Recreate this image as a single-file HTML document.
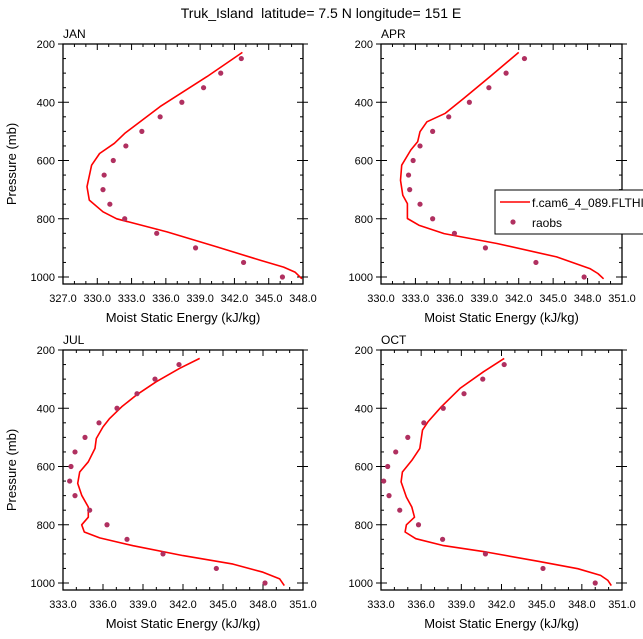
<!DOCTYPE html>
<html><head><meta charset="utf-8">
<style>
body{margin:0;background:#fff;}
svg{display:block;font-family:"Liberation Sans",Arial,sans-serif;}
</style></head>
<body>
<svg id="chart" width="643" height="639" viewBox="0 0 643 639">
<text x="321" y="18" text-anchor="middle" font-size="14">Truk_Island&#160;&#160;latitude=&#160;7.5&#160;N&#160;longitude=&#160;151&#160;E</text>
<g id="panels"></g>
<g>
<rect x="495" y="190" width="160" height="44" fill="#fff" stroke="#000" stroke-width="1"/>
<line x1="500" y1="202" x2="530" y2="202" stroke="#ff0000" stroke-width="1.6"/>
<text x="532" y="207" font-size="12">f.cam6_4_089.FLTHIST</text>
<circle cx="513" cy="222" r="2.6" fill="#b03060"/>
<text x="532" y="227" font-size="12">raobs</text>
</g>
</svg>
<script>
const months = ["JAN","APR","JUL","OCT"];
const xMins = [327,330,333,333];
const xMaxs = [348,351,351,351];
const obsPressure = [250,300,350,400,450,500,550,600,650,700,750,800,850,900,950,1000];
const obsJAN = [342.6,340.8,339.3,337.4,335.5,333.9,332.5,331.4,330.6,330.5,331.1,332.4,335.2,338.6,342.8,346.2];
const obsAPR = [342.5,340.9,339.4,337.7,335.9,334.5,333.4,332.8,332.4,332.5,333.4,334.5,336.4,339.1,343.5,347.7];
const obsJUL = [341.7,339.9,338.55,337.05,335.7,334.65,333.9,333.6,333.5,333.9,335.0,336.3,337.8,340.5,344.5,348.15];
const obsOCT = [342.2,340.6,339.2,337.65,336.2,335.0,334.1,333.5,333.2,333.6,334.4,335.8,337.6,340.8,345.1,349.0];
const modPJAN = [229,312,415,507,541,576,616,690,736,776,800,845,897,943,966,983,1006];
const modJAN = [342.7,339.6,335.5,332.4,331.5,330.2,329.5,329.1,329.3,330.5,331.7,336.1,340.5,344.3,346.3,347.3,347.9];
const modPAPR = [229,312,387,438,467,501,535,564,616,668,719,748,799,822,851,885,931,971,988,1006];
const modAPR = [342.0,339.5,337.2,335.6,334.0,333.4,333.2,332.6,331.8,331.7,331.9,332.3,332.3,333.3,335.5,340.1,345.3,348.2,348.9,349.4];
const modPJUL = [229,263,309,355,395,435,464,504,538,584,619,658,699,739,774,800,825,845,872,906,935,963,986,1009];
const modJUL = [343.25,341.75,340.0,338.5,337.4,336.5,336.0,335.5,335.4,334.9,334.25,334.1,334.4,334.9,334.9,334.4,334.6,335.75,338.25,342.0,345.75,348.0,349.25,349.6];
const modPOCT = [229,275,332,395,447,475,538,579,619,653,705,739,774,800,825,848,871,894,925,951,974,991,1009];
const modOCT = [342.2,340.65,338.9,337.5,336.5,336.1,335.9,335.3,334.6,334.5,334.9,335.3,335.5,334.9,334.8,335.6,337.6,340.9,344.7,347.7,349.4,349.95,350.2];
const yTicks = [200,400,600,800,1000];
const obsAll=[obsJAN,obsAPR,obsJUL,obsOCT];
const modAll=[modJAN,modAPR,modJUL,modOCT];
const modPAll=[modPJAN,modPAPR,modPJUL,modPOCT];
const NS="http://www.w3.org/2000/svg";
const boxes=[[63,44,303,284],[381,44,622,284],[63,350,303,590],[381,350,622,590]];
const P0=200,P1=1024;
const root=document.getElementById('panels');
function mk(tag,at,parent){const e=document.createElementNS(NS,tag);for(const k in at)e.setAttribute(k,at[k]);parent.appendChild(e);return e;}
months.forEach((m,i)=>{
  const [L,T,R,B]=boxes[i];
  const g=mk('g',{},root);
  
  
  const xs=v=>L+(v-xMins[i])/(xMaxs[i]-xMins[i])*(R-L);
  const ys=p=>T+(p-P0)/(P1-P0)*(B-T);
  for(let v=xMins[i];v<=xMaxs[i]+1e-6;v+=1){
    const maj=Math.abs((v-xMins[i])%3)<1e-6; const len=maj?6:3; const x=xs(v);
    mk('line',{x1:x,y1:B,x2:x,y2:B-len,stroke:'#000','stroke-width':1},g);
    mk('line',{x1:x,y1:T,x2:x,y2:T+len,stroke:'#000','stroke-width':1},g);
    if(maj){const t=mk('text',{x:x,y:B+18,'font-size':11,'text-anchor':'middle'},g);t.textContent=v.toFixed(1);
      
      }
  }
  for(let p=200;p<=1000;p+=50){
    const maj=p%200===0; const len=maj?6:3; const y=ys(p);
    mk('line',{x1:L-(maj?5:0),y1:y,x2:L+len,y2:y,stroke:'#000','stroke-width':1},g);
    mk('line',{x1:R+(maj?5:0),y1:y,x2:R-len,y2:y,stroke:'#000','stroke-width':1},g);
  }
  yTicks.forEach(p=>{const t=mk('text',{x:L-8,y:ys(p)+4,'font-size':11,'text-anchor':'end'},g);t.textContent=p;
    
    });
  const fr=mk('rect',{x:L,y:T,width:R-L,height:B-T,fill:'none',stroke:'#000','stroke-width':1.3},g);
  
  
  const lab=mk('text',{x:L,y:T-6,'font-size':12},g);lab.textContent=m;
  
  
  const xt=mk('text',{x:(L+R)/2,y:B+38,'font-size':13,'text-anchor':'middle'},g);xt.textContent='Moist Static Energy (kJ/kg)';
  
  
  if(i%2===0){const cy=(T+B)/2;const yt=mk('text',{x:16,y:cy,'font-size':13,'text-anchor':'middle',transform:`rotate(-90 16 ${cy})`},g);yt.textContent='Pressure (mb)';
    
    }
  const pts=modAll[i].map((v,k)=>xs(v).toFixed(1)+','+ys(modPAll[i][k]).toFixed(1)).join(' ');
  const pl=mk('polyline',{points:pts,fill:'none',stroke:'#ff0000','stroke-width':1.6,'stroke-linejoin':'round'},g);
  
  
  obsAll[i].forEach((v,k)=>{const c=mk('circle',{cx:xs(v),cy:ys(obsPressure[k]),r:2.6,fill:'#b03060'},g);
    
    });
});
</script>
</body></html>
